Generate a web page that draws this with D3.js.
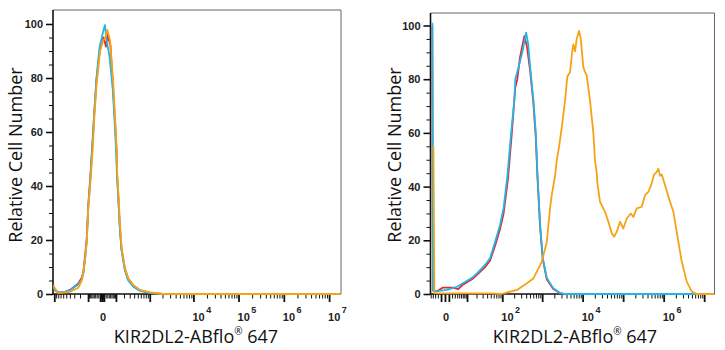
<!DOCTYPE html>
<html>
<head>
<meta charset="utf-8">
<script src="https://cdn.jsdelivr.net/npm/d3@7"></script>
<style>
  body { margin: 0; background: #fff; }
  svg { display: block; }
</style>
</head>
<body>
<div id="container"></div>
<script>
let w = 725;
let h = 350;

// ---- data (fluorescence intensity, relative cell number) ----
let yTickValues = [0, 20, 40, 60, 80, 100];
let leftTickLabels = [0, 1e4, 1e5, 1e6, 1e7];
let rightTickLabels = [0, 1e2, 1e4, 1e6];
let axisTitleX = "KIR2DL2-ABflo";
let axisTitleY = "Relative Cell Number";

// left panel
let leftRed = [[-1056,3],[-960,1.5],[-780,0.5],[-540,0.8],[-397,1.5],[-230,3.8],[-175,6],[-154,8],[-133,14],[-114,20.5],[-98,33],[-76,45],[-62,55],[-48,66],[-32,79],[-12,90],[8,95],[22,91.6],[32,96],[52,92],[72,77],[89,65],[106,53],[112,44],[123,37.5],[143,25],[165,16.5],[213,9.3],[270,5.6],[380,3],[570,1.3],[1010,0.5],[2000,0],[1.8e7,0]];
let leftCyan = [[-1056,2.5],[-940,1.2],[-760,0.6],[-540,0.8],[-397,1.4],[-230,3.5],[-175,5.5],[-154,7.5],[-133,12.5],[-114,19.5],[-98,32],[-76,44],[-62,54],[-48,66],[-33,79],[-14,91],[5,97],[16,99.6],[25,94],[45,88],[70,76],[87,64],[103,52],[110,44],[121,37.5],[141,25],[163,16.5],[210,9],[265,5.2],[370,2.8],[560,1.2],[990,0.4],[1900,0],[1.8e7,0]];
let leftOrange = [[-1056,3.3],[-960,2],[-811,0.4],[-640,0.5],[-397,0.8],[-227,2.3],[-175,5],[-154,8],[-133,13],[-114,19],[-98,31.7],[-73,44],[-59,53.3],[-46,65.7],[-30,78],[-10,90],[6.6,94],[16,94.5],[30,97.8],[49,94],[75,78],[91,65.7],[108,53.3],[114,44],[125,37.9],[145,25.6],[167,16.9],[215,9.5],[272,5.8],[379,3.3],[572,1.5],[1016,0.6],[2091,0],[1.8e7,0]];

// right panel
let rightRed = [[-4.2,100],[-3.9,1.3],[-2.3,1.0],[-0.5,2.4],[2.3,2.4],[4.5,1.8],[7.1,3.5],[14.6,5.5],[21,7.2],[35,10],[48,12.5],[65,18],[87,24],[108,30],[140,43],[175,60],[214,77],[240,80],[280,88],[360,96],[390,94],[420,92],[503,83],[607,71],[695,58],[761,44],[888,25],[1035,13],[1300,5.5],[1860,2],[2770,0.3],[3500,0],[1.8e7,0]];
let rightCyan = [[-4.2,101],[-3.9,1.3],[-2.3,1.1],[0.5,1.5],[3.9,2.7],[7.1,4],[14.6,6],[21,7.8],[35,10.8],[48,13.4],[65,19.4],[87,25.6],[108,32],[135,44],[168,60],[202,72],[214,80],[258,84.5],[321,90],[370,95],[400,97.3],[450,93],[503,84.5],[607,72],[695,60],[761,45],[806,38],[888,25.6],[1035,13.4],[1300,6],[1860,2.2],[2770,0.4],[3500,0],[1.8e7,0]];
let rightOrange = [[-3.7,55],[-3.3,0.3],[0,0.2],[50,0.2],[96,0],[134,0.6],[236,1.5],[417,4],[607,5.8],[977,12],[1300,19.4],[1567,32],[1726,36.8],[2083,44],[2293,49.8],[2614,54.8],[3048,62],[3676,72],[4190,81],[4884,82.6],[5500,90],[5890,93],[6490,90.4],[7150,95],[8150,98],[9000,95],[10400,84.5],[11500,82.6],[12600,81.4],[15200,72],[18400,60],[20200,49.8],[22300,45],[23000,41.7],[26900,34.3],[35800,30.6],[43100,26.9],[52300,22.7],[59600,21.3],[69500,23.2],[83800,26.9],[101000,24.4],[123000,28.1],[154000,30],[179000,28.7],[217000,31.9],[288000,32.5],[347000,36.8],[419000,38],[508000,41.2],[580000,44.5],[676000,45.5],[740000,46.7],[815000,44],[898000,44.5],[1084000,40.5],[1440000,34.3],[1740000,30.6],[2310000,19.4],[2800000,12],[3720000,4.6],[4940000,0.9],[6560000,0],[1.8e7,0]];

let red = "#e8262c";
let cyan = "#22b6e6";
let orange = "#f5a316";

let viz = d3.select("#container")
  .append("svg")
    .attr("width", w)
    .attr("height", h)
;

// biexponential-ish tick positions (majors at decades, minors 2..9)
function biexTicks(lo, hi){
  let ticks = [{v: 0, major: true}];
  for (let k = 0; k <= 7; k++){
    for (let m = 1; m <= 9; m++){
      let v = m * Math.pow(10, k);
      if (v <= hi) ticks.push({v: v, major: m === 1});
      if (-v >= lo) ticks.push({v: -v, major: m === 1});
    }
  }
  return ticks;
}

function drawPanel(p, series, tickLabels){
  let g = viz.append("g");

  let xScale = d3.scaleSymlog().constant(p.c).domain(p.domain).range([p.x0, p.x1]);
  let yScale = d3.scaleLinear().domain([0, 100]).range([p.y0, p.y100]);

  // top + right frame
  g.append("path")
    .attr("d", "M" + p.x0 + "," + p.yTop + "H" + p.x1 + "V" + p.y0)
    .attr("fill", "none")
    .attr("stroke", "#666")
    .attr("stroke-width", 1)
  ;

  // y axis
  let yAxisGroup = g.append("g").attr("transform", "translate(" + p.x0 + ",0)");
  let yAxis = d3.axisLeft(yScale)
    .tickValues(d3.range(0, 101, 5))
    .tickSizeOuter(0)
    .tickSize(7)
    .tickPadding(3)
    .tickFormat(function(d){ return yTickValues.includes(d) ? d : ""; });
  yAxisGroup.call(yAxis);
  yAxisGroup.select(".domain").remove();
  yAxisGroup.selectAll(".tick line")
    .attr("x2", function(d){ return d % 20 === 0 ? -7 : -4; })
    .attr("stroke", "#111")
    .attr("stroke-width", function(d){ return d % 20 === 0 ? 1.6 : 1; });
  yAxisGroup.selectAll(".tick text")
    .attr("font-family", "'Liberation Sans', Arial, sans-serif")
    .attr("font-weight", "bold")
    .attr("font-size", 11)
    .attr("fill", "#222");
  g.append("line")
    .attr("x1", p.x0).attr("x2", p.x0)
    .attr("y1", p.yTop).attr("y2", p.y0 + 0.5)
    .attr("stroke", "#111").attr("stroke-width", 1.6);

  // x axis
  let ticks = biexTicks(p.domain[0], p.domain[1]);
  let xAxisGroup = g.append("g").attr("transform", "translate(0," + p.y0 + ")");
  let xAxis = d3.axisBottom(xScale)
    .tickValues(ticks.map(function(t){ return t.v; }))
    .tickSizeOuter(0)
    .tickFormat("");
  xAxisGroup.call(xAxis);
  xAxisGroup.select(".domain").remove();
  xAxisGroup.selectAll(".tick line")
    .data(ticks)
    .attr("y2", function(d){ return d.major ? 8 : 4.5; })
    .attr("stroke", "#111")
    .attr("stroke-width", function(d){ return d.major ? 1.8 : 1; });
  g.append("line")
    .attr("x1", p.x0).attr("x2", p.x1)
    .attr("y1", p.y0).attr("y2", p.y0)
    .attr("stroke", "#111").attr("stroke-width", 1.6);

  // x tick labels (0, 10^n) - base and exponent as separate texts
  let labels = g.append("g")
    .attr("font-family", "'Liberation Sans', Arial, sans-serif")
    .attr("font-weight", "bold")
    .attr("fill", "#222");
  tickLabels.forEach(function(v){
    let x = xScale(v);
    if (v === 0){
      labels.append("text").attr("x", x + 1).attr("y", p.y0 + 27)
        .attr("font-size", 11).attr("text-anchor", "middle").text("0");
    } else {
      let base = labels.append("text").attr("x", x - 1).attr("y", p.y0 + 27)
        .attr("font-size", 11).text("10");
      let bw = base.node().getComputedTextLength();
      labels.append("text").attr("x", x + bw + 0.5).attr("y", p.y0 + 19)
        .attr("font-size", 9).text(String(Math.round(Math.log10(v))));
    }
  });

  // curves
  let clipId = "clip" + p.id;
  g.append("clipPath").attr("id", clipId)
    .append("rect")
      .attr("x", p.x0).attr("y", p.yTop - 10)
      .attr("width", p.x1 - p.x0).attr("height", p.y0 - p.yTop + 12);

  let line = d3.line()
    .x(function(d){ return xScale(d[0]); })
    .y(function(d){ return yScale(d[1]); })
    .curve(d3.curveLinear);

  g.append("g").attr("clip-path", "url(#" + clipId + ")")
    .selectAll("path")
    .data(series)
    .enter()
    .append("path")
      .attr("d", function(d){ return line(d.values); })
      .attr("fill", "none")
      .attr("stroke", function(d){ return d.color; })
      .attr("stroke-width", 1.8)
      .attr("stroke-linejoin", "round");

  // axis titles
  let titleFont = "'Open Sans', 'Noto Sans', sans-serif";
  let xt = g.append("text")
    .attr("x", p.xTitle).attr("y", 343)
    .attr("text-anchor", "middle")
    .attr("font-family", titleFont)
    .attr("font-size", 18)
    .attr("fill", "#111");
  xt.append("tspan").text(axisTitleX);
  xt.append("tspan").attr("dy", -8).attr("font-size", 10).text("®");
  xt.append("tspan").attr("dy", 8).text(" 647");

  g.append("text")
    .attr("transform", "translate(" + p.yTitleX + ",155) rotate(-90)")
    .attr("text-anchor", "middle")
    .attr("font-family", titleFont)
    .attr("font-size", 18)
    .attr("fill", "#111")
    .text(axisTitleY);
}

drawPanel(
  {id: "L", x0: 53, x1: 341, yTop: 10, y0: 294, y100: 24, c: 97, domain: [-1074, 1.83e7], xTitle: 196, yTitleX: 22},
  [{values: leftRed, color: red}, {values: leftCyan, color: cyan}, {values: leftOrange, color: orange}],
  leftTickLabels
);

drawPanel(
  {id: "R", x0: 430.5, x1: 714.5, yTop: 13, y0: 294, y100: 25.5, c: 4, domain: [-5.1, 1.8e7], xTitle: 575, yTitleX: 401},
  [{values: rightRed, color: red}, {values: rightCyan, color: cyan}, {values: rightOrange, color: orange}],
  rightTickLabels
);
</script>
</body>
</html>
